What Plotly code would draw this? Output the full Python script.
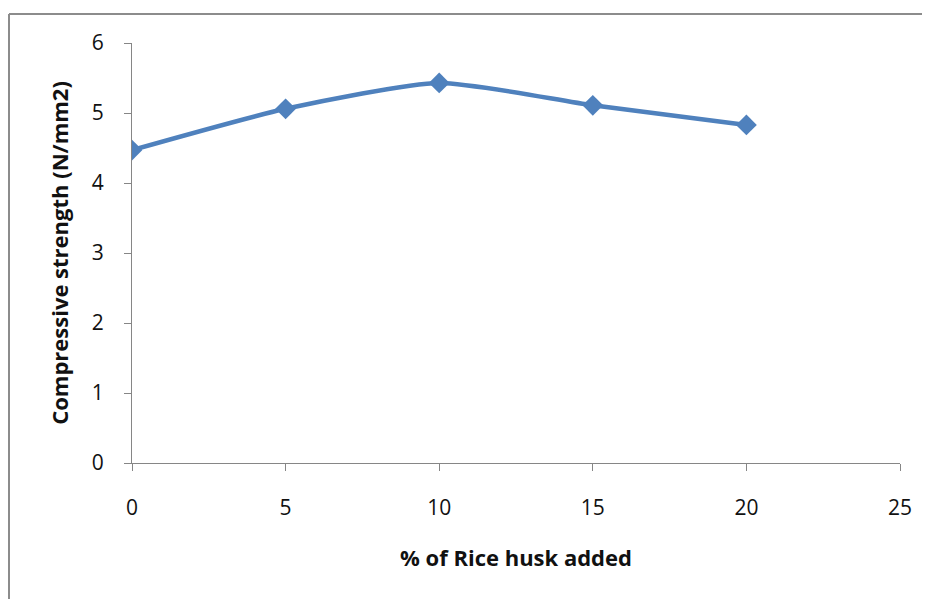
import plotly.graph_objects as go

rice_husk_pct = [0, 5, 10, 15, 20]
compressive_strength = [4.47, 5.06, 5.43, 5.11, 4.83]
x_ticks = [0, 5, 10, 15, 20, 25]
y_ticks = [0, 1, 2, 3, 4, 5, 6]

axis_color = "#868686"
frame_color = "#8c8c8c"
font_family = "Open Sans, Noto Sans, sans-serif"

fig = go.Figure()
fig.add_trace(go.Scatter(
    x=rice_husk_pct, y=compressive_strength,
    mode="lines+markers",
    line=dict(color="#4F81BD", width=4.5, shape="spline", smoothing=0.6),
    marker=dict(symbol="diamond", size=16, color="#4F81BD"),
    showlegend=False,
))

frame_left = -123 / 768
frame_top = 1 + 29 / 420

fig.update_layout(
    width=922, height=591,
    margin=dict(l=124, r=30, t=35, b=136),
    paper_bgcolor="white", plot_bgcolor="white",
    font=dict(family=font_family, size=21, color="#111"),
    xaxis=dict(
        range=[0, 25], tickvals=x_ticks, ticktext=[str(v) for v in x_ticks],
        showgrid=False, zeroline=False, showline=True, linecolor=axis_color, linewidth=1,
        ticks="outside", ticklen=7, tickcolor=axis_color, tickwidth=1,
        ticklabelstandoff=19, tickfont=dict(size=21),
        title=dict(text="<b>% of Rice husk added</b>", font=dict(size=22), standoff=30),
    ),
    yaxis=dict(
        range=[0, 6], tickvals=y_ticks, ticktext=[str(v) for v in y_ticks],
        showgrid=False, zeroline=False, showline=True, linecolor=axis_color, linewidth=1,
        ticks="outside", ticklen=7, tickcolor=axis_color, tickwidth=1,
        ticklabelstandoff=16, tickfont=dict(size=21),
        title=dict(text="<b>Compressive strength (N/mm2)</b>", font=dict(size=22), standoff=17),
    ),
    shapes=[
        dict(type="line", xref="paper", yref="paper", x0=frame_left, x1=1.1,
             y0=frame_top, y1=frame_top, line=dict(color=frame_color, width=2), layer="below"),
        dict(type="line", xref="paper", yref="paper", x0=frame_left, x1=frame_left,
             y0=frame_top, y1=-0.4, line=dict(color=frame_color, width=2), layer="below"),
    ],
)

fig.write_html("out.html")
